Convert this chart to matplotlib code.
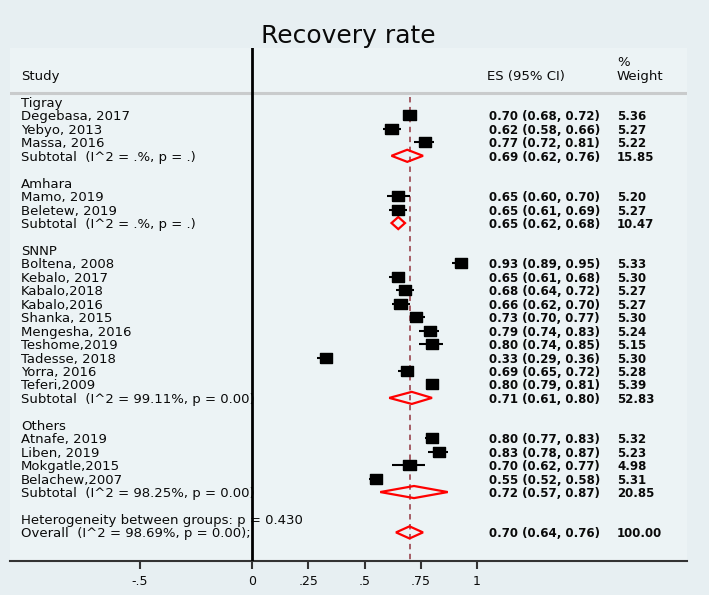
import matplotlib.pyplot as plt
import numpy as np

plt.rcParams['font.family'] = 'DejaVu Sans'

# data
groups = ['Tigray', 'Amhara', 'SNNP', 'Others']
group_sizes = [3, 2, 10, 4]
studies = ['Degebasa, 2017', 'Yebyo, 2013', 'Massa, 2016',
           'Mamo, 2019', 'Beletew, 2019',
           'Boltena, 2008', 'Kebalo, 2017', 'Kabalo,2018', 'Kabalo,2016', 'Shanka, 2015',
           'Mengesha, 2016', 'Teshome,2019', 'Tadesse, 2018', 'Yorra, 2016', 'Teferi,2009',
           'Atnafe, 2019', 'Liben, 2019', 'Mokgatle,2015', 'Belachew,2007']
es = [0.70, 0.62, 0.77,
      0.65, 0.65,
      0.93, 0.65, 0.68, 0.66, 0.73, 0.79, 0.80, 0.33, 0.69, 0.80,
      0.80, 0.83, 0.70, 0.55]
lci = [0.68, 0.58, 0.72,
       0.60, 0.61,
       0.89, 0.61, 0.64, 0.62, 0.70, 0.74, 0.74, 0.29, 0.65, 0.79,
       0.77, 0.78, 0.62, 0.52]
uci = [0.72, 0.66, 0.81,
       0.70, 0.69,
       0.95, 0.68, 0.72, 0.70, 0.77, 0.83, 0.85, 0.36, 0.72, 0.81,
       0.83, 0.87, 0.77, 0.58]
weights = [5.36, 5.27, 5.22,
           5.20, 5.27,
           5.33, 5.30, 5.27, 5.27, 5.30, 5.24, 5.15, 5.30, 5.28, 5.39,
           5.32, 5.23, 4.98, 5.31]

sub_es = [0.69, 0.65, 0.71, 0.72]
sub_lci = [0.62, 0.62, 0.61, 0.57]
sub_uci = [0.76, 0.68, 0.80, 0.87]
sub_weights = [15.85, 10.47, 52.83, 20.85]
sub_i2 = ['.%', '.%', '99.11%', '98.25%']
sub_p = ['.', '.', '0.00', '0.00']

overall_es, overall_lci, overall_uci = 0.70, 0.64, 0.76
overall_i2, overall_p = '98.69%', '0.00'
het_p = '0.430'

xticks = [-0.5, 0, 0.25, 0.5, 0.75, 1]
xticklabels = ['-.5', '0', '.25', '.5', '.75', '1']

bg = '#e7eff2'
panel = '#ecf3f5'
txt = '#0a0a0a'

fig = plt.figure(figsize=(7.09, 5.95), dpi=100, facecolor=bg)
ax = fig.add_axes([10 / 709, 34 / 595, 677 / 709, 513 / 595], facecolor=panel)
ax.set_xlim(-242 / 225, 435 / 225)
ybot, ytop = (561 - 102) / 13.45, (48 - 102) / 13.45
ax.set_ylim(ybot, ytop)

tr = ax.get_yaxis_transform()
x_study, x_es, x_w = 0.01625, 0.7075, 0.8966
fs = 9.5


def ci_text(e, l, u):
    return f'{e:.2f} ({l:.2f}, {u:.2f})'


def diamond(e, l, u, row):
    ax.fill([l, e, u, e, l], [row, row - 0.45, row, row + 0.45, row],
            facecolor='none', edgecolor='#ff0000', lw=1.6, zorder=3)


# header
ax.text(x_study, -2, 'Study', transform=tr, fontsize=fs, va='center_baseline', color=txt)
ax.text(x_es - 0.003, -2, 'ES (95% CI)', transform=tr, fontsize=fs, va='center_baseline', color=txt)
ax.text(x_w, -3.03, '%', transform=tr, fontsize=fs, va='center_baseline', color=txt)
ax.text(x_w, -2, 'Weight', transform=tr, fontsize=fs, va='center_baseline', color=txt)
ax.axhline(-0.7, color='#c9cbcc', lw=2.2, zorder=2)

box = [(-1, -0.8), (1, -0.8), (1, 0.8), (-1, 0.8), (-1, -0.8)]

row = 0
k = 0
rows_s = []
for g, n in enumerate(group_sizes):
    ax.text(x_study, row, groups[g], transform=tr, fontsize=fs, va='center_baseline', color=txt)
    row += 1
    for i in range(n):
        ax.text(x_study, row, studies[k], transform=tr, fontsize=fs, va='center_baseline', color=txt)
        ax.text(x_es, row, ci_text(es[k], lci[k], uci[k]), transform=tr, fontsize=8.5,
                fontweight='bold', va='center_baseline', color=txt)
        ax.text(x_w, row, f'{weights[k]:.2f}', transform=tr, fontsize=8.5,
                fontweight='bold', va='center_baseline', color=txt)
        rows_s.append(row)
        k += 1
        row += 1
    ax.text(x_study, row, f'Subtotal  (I^2 = {sub_i2[g]}, p = {sub_p[g]})', transform=tr,
            fontsize=fs, va='center_baseline', color=txt)
    ax.text(x_es, row, ci_text(sub_es[g], sub_lci[g], sub_uci[g]), transform=tr, fontsize=8.5,
            fontweight='bold', va='center_baseline', color=txt)
    ax.text(x_w, row, f'{sub_weights[g]:.2f}', transform=tr, fontsize=8.5,
            fontweight='bold', va='center_baseline', color=txt)
    diamond(sub_es[g], sub_lci[g], sub_uci[g], row)
    row += 2

ax.text(x_study, row, f'Heterogeneity between groups: p = {het_p}', transform=tr,
        fontsize=fs, va='center_baseline', color=txt)
row += 1
ax.text(x_study, row, f'Overall  (I^2 = {overall_i2}, p = {overall_p});', transform=tr,
        fontsize=fs, va='center_baseline', color=txt)
ax.text(x_es, row, ci_text(overall_es, overall_lci, overall_uci), transform=tr, fontsize=8.5,
        fontweight='bold', va='center_baseline', color=txt)
ax.text(x_w, row, '100.00', transform=tr, fontsize=8.5,
        fontweight='bold', va='center_baseline', color=txt)
diamond(overall_es, overall_lci, overall_uci, row)

# study estimates
ax.hlines(rows_s, lci, uci, color='black', lw=1.5, zorder=3)
sizes = 80 * np.array(weights) / 5.3
ax.scatter(es, rows_s, s=sizes, marker=box, color='black', zorder=3)

# reference lines
ax.axvline(0, color='black', lw=2, zorder=5)
ax.vlines(overall_es, -0.35, ybot, colors='#a0525a', linestyles=(0, (3, 2.5)), lw=1.3, zorder=2)

for s in ['top', 'left', 'right']:
    ax.spines[s].set_visible(False)
ax.spines['bottom'].set_color('#333333')
ax.spines['bottom'].set_linewidth(1.5)
ax.set_yticks([])
ax.set_xticks(xticks)
ax.set_xticklabels(xticklabels)
ax.tick_params(axis='x', length=6, width=1.5, color='#333333', labelsize=9, pad=4, labelcolor=txt)

fig.text(348 / 709, 1 - 33 / 595, 'Recovery rate', fontsize=18, ha='center',
         va='center_baseline', color=txt)

fig.savefig('out.png', dpi=100, facecolor=bg)
